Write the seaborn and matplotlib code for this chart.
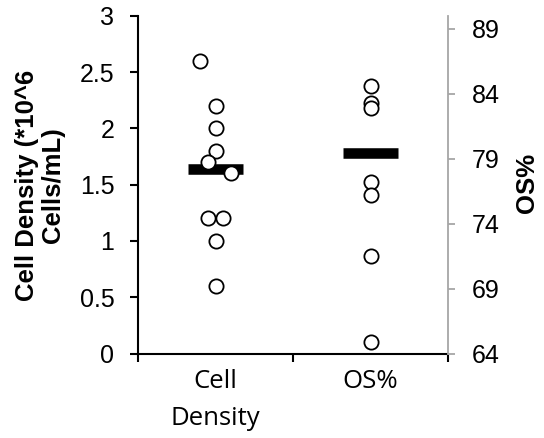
import numpy as np
import pandas as pd
import matplotlib
matplotlib.use("Agg")
import matplotlib.pyplot as plt
from matplotlib.ticker import FixedLocator
import seaborn as sns

# ---- data ----
categories = ["Cell\nDensity", "OS%"]
density = [2.6, 2.2, 2.0, 1.8, 1.7, 1.6, 1.2, 1.2, 1.0, 0.6]
density_offset = [-0.10, 0.0, 0.0, 0.0, -0.05, 0.10, -0.05, 0.05, 0.0, 0.0]
os_vals = [84.6, 83.3, 82.9, 77.2, 76.2, 71.5, 64.9]
os_offset = [0.0, 0.0, 0.0, 0.0, 0.0, 0.0, 0.0]
density_mean = [1.635]
os_mean = [79.45]
left_ticks = [0, 0.5, 1, 1.5, 2, 2.5, 3]
left_ticklabels = ["0", "0.5", "1", "1.5", "2", "2.5", "3"]
right_ticks = [64, 69, 74, 79, 84, 89]

sns.set_style("white")
plt.rcParams['font.family'] = ['Liberation Sans', 'DejaVu Sans']
plt.rcParams['text.color'] = 'black'
plt.rcParams['xtick.labelcolor'] = 'black'
plt.rcParams['ytick.labelcolor'] = 'black'

fig = plt.figure(figsize=(5.44, 4.38), dpi=100)
ax = fig.add_axes([138/544, 1-353.5/438, (448-138)/544, (353.5-15.7)/438])
ax2 = ax.twinx()

df_d = pd.DataFrame({"x": np.array(density_offset) + 0, "y": density})
df_o = pd.DataFrame({"x": np.array(os_offset) + 1, "y": os_vals})

bar_half = 0.18
ax.hlines(density_mean, 0 - bar_half, 0 + bar_half, colors="black", lw=7.6, zorder=2)
ax2.hlines(os_mean, 1 - bar_half, 1 + bar_half, colors="black", lw=7.6, zorder=2)

sns.scatterplot(data=df_d, x="x", y="y", ax=ax, s=105, facecolor="white",
                edgecolor="black", linewidth=1.3, zorder=3, legend=False)
sns.scatterplot(data=df_o, x="x", y="y", ax=ax2, s=105, facecolor="white",
                edgecolor="black", linewidth=1.3, zorder=3, legend=False)

ax.set_xlim(-0.5, 1.5)
ax.set_ylim(0, 3)
ax2.set_ylim(64, 90)

# spines
for a in (ax, ax2):
    for s in a.spines.values():
        s.set_visible(False)
ax.spines["left"].set_visible(True)
ax.spines["bottom"].set_visible(True)
ax.spines["left"].set_color("black")
ax.spines["bottom"].set_color("black")
ax.spines["left"].set_linewidth(1.5)
ax.spines["bottom"].set_linewidth(1.5)
ax2.spines["right"].set_visible(True)
ax2.spines["right"].set_color("#A6A6A6")
ax2.spines["right"].set_linewidth(1.3)

# y ticks
ax.set_yticks(left_ticks)
ax.set_yticklabels(left_ticklabels)
ax.tick_params(axis="y", direction="out", length=6, width=1.5, color="black",
               left=True, labelsize=18, pad=11, labelcolor="black")
ax2.set_yticks(right_ticks)
ax2.tick_params(axis="y", direction="out", length=5, width=1.3, color="#A6A6A6",
                right=True, labelsize=18, pad=12, labelcolor="black")

# x ticks
ax.set_xticks([0, 1])
ax.set_xticklabels(categories, fontfamily=["Open Sans", "DejaVu Sans"],
                   fontsize=18.5, linespacing=1.65, color="black")
ax.xaxis.set_minor_locator(FixedLocator([-0.5, 0.5, 1.5]))
ax.tick_params(axis="x", which="major", length=0, pad=11)
ax.tick_params(axis="x", which="minor", direction="out", length=6, width=1.5,
               color="black", bottom=True)

ax.set_xlabel("")
ax.set_ylabel("")
ax2.set_ylabel("")

fig.text(40/544, 1-185/438, "Cell Density (*10^6\nCells/mL)", rotation=90,
         ha="center", va="center", fontsize=18.5, fontweight="bold",
         linespacing=1.1, color="black")
fig.text(527/544, 1-183/438, "OS%", rotation=90, ha="center", va="center",
         fontsize=18.5, fontweight="bold", color="black")

fig.savefig("out.png", dpi=100)
